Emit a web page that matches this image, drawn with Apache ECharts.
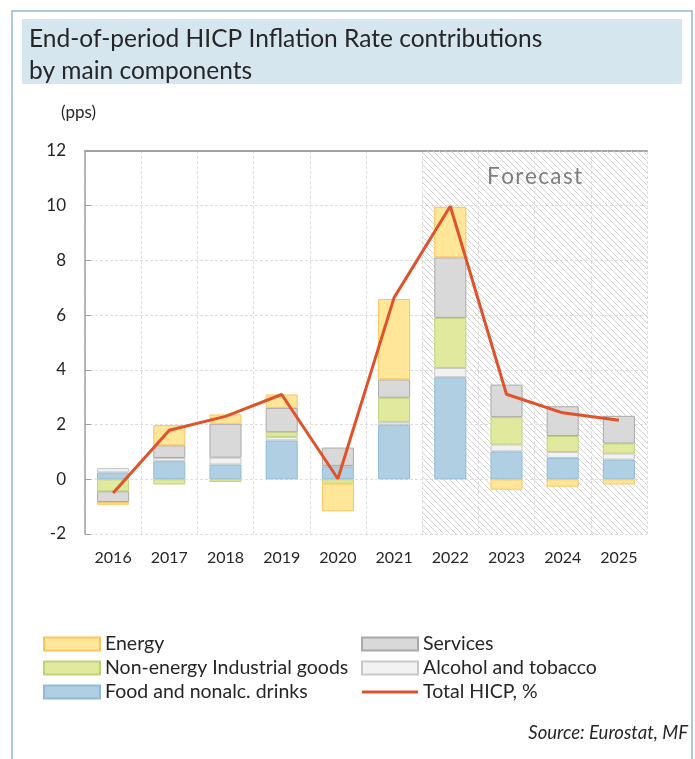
<!DOCTYPE html>
<html>
<head>
<meta charset="utf-8">
<script src="https://cdn.jsdelivr.net/npm/echarts@6/dist/echarts.min.js"></script>
<style>
  html, body { margin: 0; padding: 0; background: #fff; }
  #chart { width: 695px; height: 759px; }
</style>
</head>
<body>
<div id="chart"></div>
<script>
// data (pps)
var anni = ['2016', '2017', '2018', '2019', '2020', '2021', '2022', '2023', '2024', '2025'];
var food = [0.25, 0.66, 0.54, 1.42, 0.47, 2.0, 3.73, 1.02, 0.78, 0.72];
var alcol = [0.16, 0.12, 0.25, 0.13, 0.02, 0.1, 0.34, 0.25, 0.22, 0.22];
var neig = [-0.44, -0.19, -0.1, 0.17, -0.16, 0.88, 1.83, 1.0, 0.58, 0.37];
var servizi = [-0.39, 0.46, 1.24, 0.89, 0.67, 0.67, 2.21, 1.19, 1.09, 1.01];
var energia = [-0.1, 0.74, 0.34, 0.49, -1.01, 2.94, 1.85, -0.38, -0.27, -0.19];
var totale = [-0.5, 1.79, 2.3, 3.1, 0.02, 6.64, 9.98, 3.11, 2.43, 2.16];
var previsione = [6, 10]; // forecast from 2022 to end (category index space)
var yTicks = { min: -2, max: 12, step: 2 };

var font = 'Lato';

// hatch pattern for forecast area
var hatch = document.createElement('canvas');
hatch.width = 6;
hatch.height = 6;
var hc = hatch.getContext('2d');
hc.strokeStyle = '#d2d2d2';
hc.lineWidth = 1;
hc.beginPath();
hc.moveTo(-1, -1); hc.lineTo(7, 7);
hc.moveTo(-1, 5); hc.lineTo(1, 7);
hc.moveTo(5, -1); hc.lineTo(7, 1);
hc.stroke();

var chartDom = document.getElementById('chart');
var myChart = echarts.init(chartDom, null, { renderer: 'canvas' });

function barra(nome, dati, fill, bordo) {
  return {
    name: nome,
    type: 'bar',
    stack: 'tot',
    barWidth: '57%',
    z: 3,
    itemStyle: { color: fill, borderColor: bordo, borderWidth: 1 },
    data: dati
  };
}

var legText = { fontSize: 19.5, color: '#262626', lineHeight: 18, fontFamily: font };
var lineIcon = 'path://M0,0 L56,0 L56,3 L0,3 Z';

var option = {
  animation: false,
  backgroundColor: '#fff',
  textStyle: { fontFamily: font },
  graphic: [
    { type: 'rect', shape: { x: 12, y: 11, width: 680, height: 760 },
      style: { fill: 'none', stroke: '#8db8d6', lineWidth: 1.5 } },
    { type: 'rect', shape: { x: 22, y: 19, width: 660, height: 65 },
      style: { fill: '#d6e6ef' } },
    { type: 'text', left: 29, top: 23,
      style: { text: 'End-of-period HICP Inflation Rate contributions\nby main components',
        font: '24.5px ' + font, fill: '#262626', lineHeight: 32 } },
    { type: 'text', left: 61, top: 104,
      style: { text: '(pps)', font: '17px ' + font, fill: '#262626' } },
    { type: 'text', right: 7, top: 724,
      style: { text: 'Source: Eurostat, MF', font: 'italic 18.5px ' + font, fill: '#262626' } }
  ],
  legend: [
    {
      left: 38, top: 629, orient: 'vertical',
      itemWidth: 56, itemHeight: 13, itemGap: 4,
      textStyle: legText,
      data: [
        { name: 'Energy', icon: 'rect' },
        { name: 'Non-energy Industrial goods', icon: 'rect' },
        { name: 'Food and nonalc. drinks', icon: 'rect' }
      ]
    },
    {
      left: 356, top: 629, orient: 'vertical',
      itemWidth: 56, itemHeight: 13, itemGap: 4,
      textStyle: legText,
      data: [
        { name: 'Services', icon: 'rect' },
        { name: 'Alcohol and tobacco', icon: 'rect' },
        { name: 'Total HICP, %', icon: lineIcon }
      ]
    }
  ],
  grid: { left: 85, right: 48, top: 151, bottom: 225 },
  xAxis: [
    {
      type: 'category', data: anni,
      axisLine: { show: false }, axisTick: { show: false },
      axisLabel: { fontSize: 16, color: '#262626', margin: 16 },
      splitLine: { show: true, lineStyle: { color: '#dedede', type: [3, 2] } }
    },
    { type: 'value', min: previsione[0] - 6, max: previsione[1], show: false },
    {
      type: 'category', data: anni,
      axisLine: { onZero: true, lineStyle: { color: '#a0a0a0', width: 1.5 } },
      axisTick: { inside: true, length: 6, lineStyle: { color: '#a0a0a0' } },
      axisLabel: { show: false }, splitLine: { show: false }
    },
    {
      type: 'category', data: anni,
      axisLine: { onZero: true, lineStyle: { color: '#a0a0a0', width: 1.5 } },
      axisTick: { inside: false, length: 6, lineStyle: { color: '#a0a0a0' } },
      axisLabel: { show: false }, splitLine: { show: false }
    }
  ],
  yAxis: {
    type: 'value', min: yTicks.min, max: yTicks.max, interval: yTicks.step,
    axisLine: { show: true, lineStyle: { color: '#a0a0a0', width: 1.5 } },
    axisTick: { show: true, inside: true, length: 6, lineStyle: { color: '#a0a0a0' } },
    axisLabel: { fontSize: 17, color: '#262626', margin: 19 },
    splitLine: { show: true, lineStyle: { color: '#dedede', type: [3, 2] } }
  },
  series: [
    {
      name: 'forecast', type: 'line', xAxisIndex: 1, data: [], z: 1,
      markArea: {
        silent: true,
        itemStyle: { color: { image: hatch, repeat: 'repeat' } },
        label: {
          show: true, position: 'insideTop', distance: 14,
          formatter: 'F\u200Ao\u200Ar\u200Ae\u200Ac\u200Aa\u200As\u200At',
          fontSize: 22.5, color: '#7f7f7f', fontFamily: font
        },
        data: [[{ xAxis: previsione[0] }, { xAxis: previsione[1] }]]
      }
    },
    barra('Food and nonalc. drinks', food, '#b0cfe2', '#8fbbd7'),
    barra('Alcohol and tobacco', alcol, '#f2f2f2', '#c8c8c8'),
    barra('Non-energy Industrial goods', neig, '#e1e99f', '#bfd27a'),
    barra('Services', servizi, '#d9d9d9', '#a9a9a9'),
    barra('Energy', energia, '#ffe699', '#fbc45e'),
    {
      name: 'Total HICP, %', type: 'line', data: totale, z: 5,
      symbol: 'none', smooth: false,
      lineStyle: { color: '#e0522b', width: 3 },
      itemStyle: { color: '#e0522b' }
    }
  ]
};

option && myChart.setOption(option);
</script>
</body>
</html>
